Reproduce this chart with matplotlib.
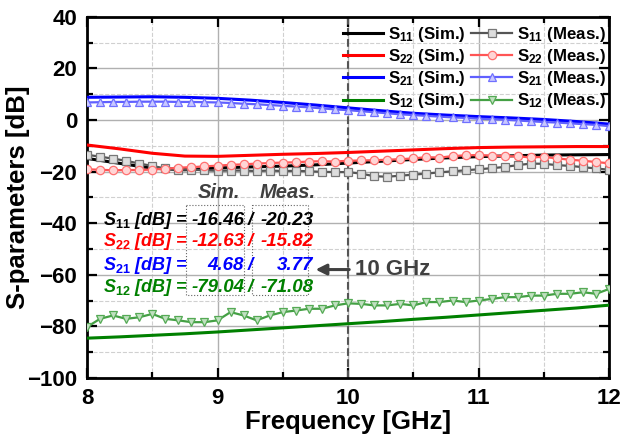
import numpy as np
import matplotlib
matplotlib.use("Agg")
import matplotlib.pyplot as plt
from matplotlib.ticker import MultipleLocator

plt.rcParams['font.family'] = ['Liberation Sans', 'DejaVu Sans']
plt.rcParams['font.weight'] = 'bold'
plt.rcParams['axes.labelweight'] = 'bold'
plt.rcParams['mathtext.fontset'] = 'custom'
plt.rcParams['mathtext.rm'] = 'Liberation Sans:bold'
plt.rcParams['mathtext.it'] = 'Liberation Sans:bold:italic'
plt.rcParams['mathtext.bf'] = 'Liberation Sans:bold'

# simulated curves (0.25 GHz step)
f_sim = [8.0, 8.25, 8.5, 8.75, 9.0, 9.25, 9.5, 9.75, 10.0, 10.25, 10.5, 10.75,
         11.0, 11.25, 11.5, 11.75, 12.0]
s11_sim = [-14.9, -16.8, -18.7, -19.3, -18.6, -18.2, -17.9, -17.4, -16.7, -16.0,
           -15.3, -14.7, -14.2, -13.9, -13.6, -13.5, -13.4]
s22_sim = [-9.7, -11.2, -12.9, -14.0, -14.1, -13.7, -13.3, -13.0, -12.6, -12.1,
           -11.6, -11.1, -10.7, -10.5, -10.4, -10.3, -10.3]
s21_sim = [8.8, 8.9, 9.0, 8.8, 8.4, 7.7, 6.8, 5.8, 4.7, 3.6, 2.6, 1.9, 1.3, 0.8,
           0.2, -0.6, -1.6]
s12_sim = [-84.6, -84.1, -83.5, -82.9, -82.2, -81.4, -80.6, -79.8, -79.0, -78.2,
           -77.3, -76.5, -75.6, -74.7, -73.8, -72.9, -71.8]

# measured curves (0.1 GHz step)
f_meas = [8.0, 8.1, 8.2, 8.3, 8.4, 8.5, 8.6, 8.7, 8.8, 8.9, 9.0, 9.1, 9.2, 9.3,
          9.4, 9.5, 9.6, 9.7, 9.8, 9.9, 10.0, 10.1, 10.2, 10.3, 10.4, 10.5, 10.6,
          10.7, 10.8, 10.9, 11.0, 11.1, 11.2, 11.3, 11.4, 11.5, 11.6, 11.7, 11.8,
          11.9, 12.0]
s11_meas = [-13.5, -14.2, -15.0, -15.8, -16.9, -17.8, -18.8, -19.3, -19.2, -19.5,
            -19.7, -19.6, -19.6, -19.8, -19.6, -19.8, -19.7, -19.9, -20.1, -20.2,
            -20.2, -20.8, -21.8, -22.0, -21.6, -21.2, -20.8, -20.3, -19.9, -19.5,
            -19.1, -18.7, -18.2, -17.5, -16.9, -17.0, -17.5, -17.8, -18.3, -18.8,
            -19.3]
s22_meas = [-19.1, -19.3, -19.5, -19.4, -19.4, -19.2, -18.9, -18.5, -18.3, -18.0,
            -17.7, -17.4, -17.2, -16.9, -16.7, -16.5, -16.4, -16.1, -16.0, -16.1,
            -15.8, -15.7, -15.6, -15.4, -15.2, -14.9, -14.4, -14.6, -14.0, -13.7,
            -13.6, -13.8, -14.0, -14.1, -14.5, -14.3, -14.9, -15.4, -15.8, -16.3,
            -16.8]
s21_meas = [6.8, 6.9, 7.0, 7.0, 7.1, 7.1, 7.1, 7.0, 7.0, 6.9, 6.8, 6.6, 6.3, 6.1,
            5.8, 5.5, 5.2, 4.9, 4.5, 4.1, 3.8, 3.4, 3.0, 2.6, 2.2, 1.9, 1.6, 1.3,
            1.0, 0.8, 0.5, 0.3, 0.1, -0.2, -0.5, -0.8, -1.0, -1.3, -1.6, -1.9, -2.4]
s12_meas = [-80.3, -77.1, -75.8, -77.1, -76.5, -75.2, -77.1, -77.7, -78.4, -78.4,
            -77.7, -74.5, -75.8, -77.7, -75.8, -74.5, -73.9, -73.2, -73.2, -71.9,
            -71.1, -71.3, -71.9, -71.9, -71.3, -71.9, -70.6, -70.6, -70.0, -70.6,
            -70.0, -69.4, -68.7, -68.7, -68.1, -68.1, -67.4, -67.4, -66.8, -67.4,
            -65.5]

# values at 10 GHz for the inset table
names = ['11', '22', '21', '12']
sim_10 = ['-16.46', '-12.63', '4.68', '-79.04']
meas_10 = ['-20.23', '-15.82', '3.77', '-71.08']
txt_colors = ['black', 'red', 'blue', 'green']

fig = plt.figure(figsize=(6.21, 4.43), dpi=100)
ax = fig.add_axes([0.140, 0.147, 0.841, 0.815])

ax.axvline(10, color='#555555', ls='--', lw=1.5, zorder=1)

sim_lw = 2.2
ax.plot(f_sim, s11_sim, color='black', lw=sim_lw, label=r'S$_{11}$ (Sim.)', zorder=3)
ax.plot(f_sim, s22_sim, color='red', lw=sim_lw, label=r'S$_{22}$ (Sim.)', zorder=3)
ax.plot(f_sim, s21_sim, color='blue', lw=sim_lw, label=r'S$_{21}$ (Sim.)', zorder=3)
ax.plot(f_sim, s12_sim, color='green', lw=sim_lw, label=r'S$_{12}$ (Sim.)', zorder=3)

mk = dict(lw=1.6, markersize=6, markeredgewidth=0.9, zorder=4)
ax.plot(f_meas, s11_meas, color='#555555', marker='s', mfc='#dddddd', mec='#777777',
        label=r'S$_{11}$ (Meas.)', **mk)
ax.plot(f_meas, s22_meas, color='#ff5555', marker='o', mfc='#ffd5d5', mec='#ff7070',
        label=r'S$_{22}$ (Meas.)', **mk)
ax.plot(f_meas, s21_meas, color='#6060ff', marker='^', mfc='#c8c8ff', mec='#7070ff',
        label=r'S$_{21}$ (Meas.)', **mk)
ax.plot(f_meas, s12_meas, color='#44a044', marker='v', mfc='#c0e0c0', mec='#55aa55',
        label=r'S$_{12}$ (Meas.)', **mk)

ax.set_xlim(8, 12)
ax.set_ylim(-100, 40)
ax.xaxis.set_major_locator(MultipleLocator(1))
ax.xaxis.set_minor_locator(MultipleLocator(0.5))
ax.yaxis.set_major_locator(MultipleLocator(20))
ax.yaxis.set_minor_locator(MultipleLocator(10))
ax.grid(which='major', color='#b0b0b0', lw=1.0, ls='-', zorder=0)
ax.grid(which='minor', color='#d0d0d0', lw=0.8, ls='--', zorder=0)
ax.set_axisbelow(True)

ax.tick_params(which='both', direction='in', top=True, right=True, width=1.6,
               labelsize=16, pad=7)
ax.tick_params(which='major', length=7)
ax.tick_params(which='minor', length=4)
for sp in ax.spines.values():
    sp.set_linewidth(2)

ax.set_xlabel('Frequency [GHz]', fontsize=18.5, labelpad=1)
ax.set_ylabel('S-parameters [dB]', fontsize=18.5, labelpad=-2)

handles, labels = ax.get_legend_handles_labels()
ax.legend(handles, labels, ncol=2, loc='upper right', bbox_to_anchor=(1.01, 1.0),
          frameon=False, fontsize=12.2, handlelength=2.4, handletextpad=0.3,
          columnspacing=0.3, labelspacing=0.18, borderaxespad=0.1)

# inset table of values at 10 GHz
ax.text(0.252, 0.514, 'Sim.', transform=ax.transAxes, ha='center', va='center',
        fontsize=14.5, style='italic', color='#404040')
ax.text(0.385, 0.514, 'Meas.', transform=ax.transAxes, ha='center', va='center',
        fontsize=14.5, style='italic', color='#404040')
rows_y = [0.437, 0.377, 0.312, 0.249]
for n, sv, mv, c, y in zip(names, sim_10, meas_10, txt_colors, rows_y):
    ax.text(0.031, y, r'S$_{\mathit{%s}}$ [dB] =' % n, transform=ax.transAxes,
            ha='left', va='center', fontsize=13, style='italic', color=c)
    ax.text(0.301, y, sv, transform=ax.transAxes, ha='right', va='center',
            fontsize=13.5, style='italic', color=c)
    ax.text(0.313, y, '/', transform=ax.transAxes, ha='center', va='center',
            fontsize=13.5, style='italic', color=c)
    ax.text(0.433, y, mv, transform=ax.transAxes, ha='right', va='center',
            fontsize=13.5, style='italic', color=c)
for x0, x1 in [(0.190, 0.300), (0.316, 0.424)]:
    ax.plot([x0, x1, x1, x0, x0], [0.479, 0.479, 0.230, 0.230, 0.479],
            transform=ax.transAxes, color='#666666', lw=0.8, ls=':', zorder=2)

ax.annotate('', xy=(9.73, -58), xytext=(10.03, -58),
            arrowprops=dict(arrowstyle='-|>', color='#404040', lw=2.2, mutation_scale=16))
ax.text(10.05, -58, '10 GHz', ha='left', va='center', fontsize=16, color='#404040')

fig.savefig('out.png', dpi=100)
